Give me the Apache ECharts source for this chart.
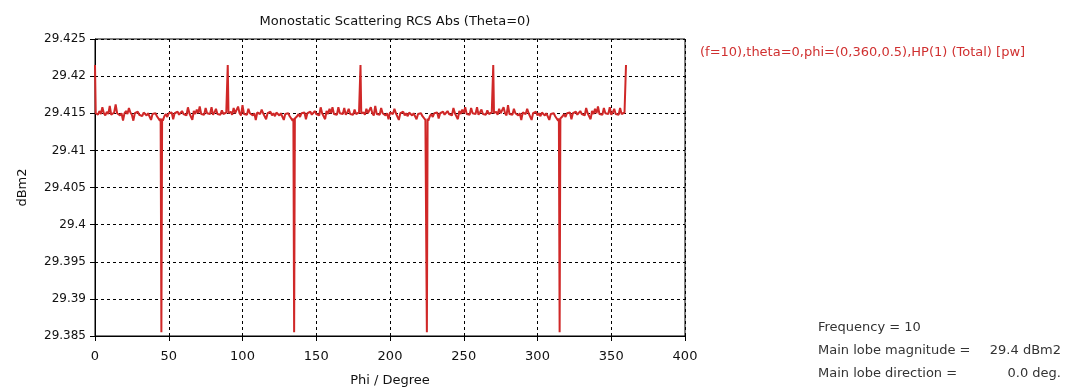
<!DOCTYPE html>
<html>
<head>
<meta charset="utf-8">
<script src="https://cdn.jsdelivr.net/npm/echarts@6/dist/echarts.min.js"></script>
<style>html,body{margin:0;padding:0;background:#fff}#c{width:1069px;height:392px}</style>
</head>
<body>
<div id="c"></div>
<script>
const titleText = 'Monostatic Scattering RCS Abs (Theta=0)';
const legendText = '(f=10),theta=0,phi=(0,360,0.5),HP(1) (Total) [pw]';
const xName = 'Phi / Degree';
const yName = 'dBm2';
const phiStart = 0, phiStep = 1;
// RCS values (dBm2), one per degree from 0 to 360
const rcs = [
29.4215,29.4150,29.4148,29.4153,29.4149,29.4158,29.4150,29.4147,29.4152,29.4149,
29.4160,29.4148,29.4146,29.4151,29.4162,29.4150,29.4152,29.4147,29.4150,29.4140,
29.4150,29.4153,29.4149,29.4157,29.4151,29.4148,29.4140,29.4150,29.4149,29.4152,
29.4148,29.4150,29.4146,29.4151,29.4149,29.4147,29.4150,29.4148,29.4141,29.4149,
29.4147,29.4150,29.4146,29.4144,29.4140,29.3855,29.4140,29.4146,29.4149,29.4145,
29.4150,29.4148,29.4151,29.4142,29.4150,29.4149,29.4152,29.4148,29.4150,29.4153,
29.4149,29.4151,29.4147,29.4158,29.4150,29.4152,29.4141,29.4153,29.4149,29.4155,
29.4150,29.4159,29.4149,29.4151,29.4148,29.4157,29.4150,29.4152,29.4149,29.4158,
29.4148,29.4151,29.4156,29.4149,29.4150,29.4148,29.4154,29.4149,29.4150,29.4151,
29.4215,29.4150,29.4152,29.4148,29.4157,29.4150,29.4149,29.4159,29.4150,29.4147,
29.4161,29.4149,29.4151,29.4148,29.4156,29.4150,29.4152,29.4147,29.4150,29.4141,
29.4151,29.4153,29.4149,29.4155,29.4150,29.4148,29.4142,29.4150,29.4149,29.4152,
29.4147,29.4150,29.4146,29.4151,29.4149,29.4147,29.4150,29.4148,29.4141,29.4149,
29.4147,29.4150,29.4146,29.4145,29.4140,29.3855,29.4141,29.4146,29.4149,29.4145,
29.4150,29.4148,29.4151,29.4142,29.4150,29.4149,29.4152,29.4148,29.4150,29.4153,
29.4149,29.4151,29.4147,29.4158,29.4150,29.4152,29.4142,29.4153,29.4149,29.4156,
29.4150,29.4158,29.4149,29.4151,29.4148,29.4158,29.4150,29.4152,29.4149,29.4157,
29.4148,29.4151,29.4156,29.4149,29.4150,29.4148,29.4155,29.4149,29.4150,29.4151,
29.4215,29.4150,29.4151,29.4148,29.4156,29.4150,29.4149,29.4158,29.4150,29.4147,
29.4160,29.4149,29.4151,29.4148,29.4157,29.4150,29.4152,29.4147,29.4150,29.4142,
29.4151,29.4153,29.4149,29.4156,29.4150,29.4148,29.4141,29.4150,29.4149,29.4152,
29.4147,29.4150,29.4146,29.4151,29.4149,29.4147,29.4150,29.4148,29.4142,29.4149,
29.4147,29.4150,29.4146,29.4144,29.4141,29.3855,29.4140,29.4146,29.4149,29.4145,
29.4150,29.4148,29.4151,29.4143,29.4150,29.4149,29.4152,29.4148,29.4150,29.4153,
29.4149,29.4151,29.4147,29.4157,29.4150,29.4152,29.4142,29.4153,29.4149,29.4155,
29.4150,29.4158,29.4149,29.4151,29.4148,29.4157,29.4150,29.4152,29.4149,29.4158,
29.4148,29.4151,29.4155,29.4149,29.4150,29.4148,29.4154,29.4149,29.4150,29.4151,
29.4215,29.4150,29.4152,29.4148,29.4156,29.4150,29.4149,29.4158,29.4150,29.4147,
29.4161,29.4149,29.4151,29.4148,29.4156,29.4150,29.4152,29.4147,29.4150,29.4141,
29.4151,29.4153,29.4149,29.4156,29.4150,29.4148,29.4141,29.4150,29.4149,29.4152,
29.4147,29.4150,29.4146,29.4151,29.4149,29.4147,29.4150,29.4148,29.4141,29.4149,
29.4147,29.4150,29.4146,29.4144,29.4140,29.3855,29.4141,29.4146,29.4149,29.4145,
29.4150,29.4148,29.4151,29.4142,29.4150,29.4149,29.4152,29.4148,29.4150,29.4153,
29.4149,29.4151,29.4147,29.4157,29.4150,29.4152,29.4142,29.4153,29.4149,29.4156,
29.4150,29.4159,29.4149,29.4151,29.4148,29.4157,29.4150,29.4152,29.4149,29.4158,
29.4148,29.4151,29.4156,29.4149,29.4150,29.4148,29.4157,29.4149,29.4150,29.4151,
29.4215
];
// extra half-degree samples read next to the sharp spikes and dips
const extraPhi = [0.5, 44.5, 45.5, 89.5, 90.5, 134.5, 135.5, 179.5, 180.5, 224.5, 225.5, 269.5, 270.5, 314.5, 315.5, 359.5];
const extraRcs = [29.4150, 29.4143, 29.4143, 29.4150, 29.4150, 29.4143, 29.4143, 29.4150, 29.4150, 29.4143, 29.4143, 29.4150, 29.4150, 29.4143, 29.4143, 29.4150];
const infoLines = ['Frequency = 10', 'Main lobe magnitude =', 'Main lobe direction ='];
const infoValues = ['', '29.4 dBm2', '0.0 deg.'];

const font = 'DejaVu Sans, Verdana, sans-serif';
const chart = echarts.init(document.getElementById('c'));
const seriesData = rcs.map((v, i) => [phiStart + i * phiStep, v])
  .concat(extraPhi.map((p, i) => [p, extraRcs[i]]))
  .sort((a, b) => a[0] - b[0]);
const graphics = [
  {type:'text', left:700, top:46, style:{text:legendText, fill:'#d03030', font:'13px ' + font}}
];
const infoY = [321, 344, 367];
infoLines.forEach((t, i) => {
  graphics.push({type:'text', left:818, top:infoY[i], style:{text:t, fill:'#333', font:'13px ' + font}});
  if (infoValues[i]) graphics.push({type:'text', right:8, top:infoY[i], style:{text:infoValues[i], fill:'#333', font:'13px ' + font, align:'right'}});
});
chart.setOption({
  animation:false,
  backgroundColor:'#fff',
  title:{text:titleText, left:390, top:10, textAlign:'center', textStyle:{fontFamily:font, fontSize:13, fontWeight:'normal', color:'#111'}},
  grid:{left:95, right:384, top:39, bottom:56, show:true, borderColor:'#000', borderWidth:1, backgroundColor:'#fff'},
  xAxis:{type:'value', min:0, max:400, interval:50, name:xName, nameLocation:'middle', nameGap:38,
    nameTextStyle:{fontFamily:font, fontSize:13, color:'#111'},
    axisLine:{show:true, lineStyle:{color:'#000'}}, axisTick:{show:true, length:5, lineStyle:{color:'#000'}},
    axisLabel:{fontFamily:font, fontSize:13, color:'#111', margin:14},
    splitLine:{show:true, lineStyle:{color:'#000', type:[3,3], width:1}}},
  yAxis:{type:'value', min:29.385, max:29.425, interval:0.005, name:yName, nameLocation:'middle', nameGap:66,
    nameTextStyle:{fontFamily:font, fontSize:13, color:'#111'},
    axisLine:{show:true, lineStyle:{color:'#000'}}, axisTick:{show:true, length:5, lineStyle:{color:'#000'}},
    axisLabel:{fontFamily:font, fontSize:12, color:'#111', margin:9, formatter:v => String(parseFloat(v.toFixed(3)))},
    splitLine:{show:true, lineStyle:{color:'#000', type:[3,3], width:1}}},
  series:[{type:'line', data:seriesData, showSymbol:false, symbol:'none', lineStyle:{color:'#d02828', width:2}, clip:true}],
  graphic:graphics
});
</script>
</body>
</html>
